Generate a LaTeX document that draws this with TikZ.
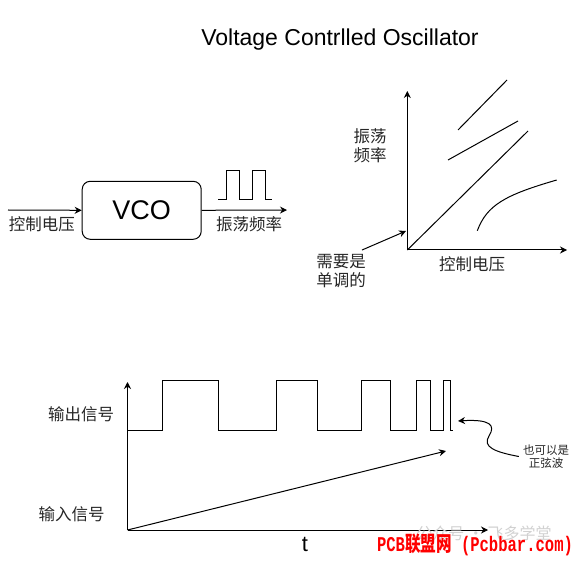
\documentclass[tikz,border=0pt]{standalone}
\usepackage{fontspec}
\setmainfont{Liberation Sans}
\newfontfamily\cjk{Noto Sans CJK SC}
\newfontfamily\wmmono{Liberation Mono}
\usetikzlibrary{positioning,arrows.meta}

\begin{document}
\begin{tikzpicture}[x=1pt,y=-1pt,
label/.style={inner sep=0pt,
  align=center,
  text=black!85,
  node font=\cjk\fontsize{16.5}{19}\selectfont
},
small/.style={label,
  node font=\cjk\fontsize{11.5}{13}\selectfont
},
arr/.style={black,line width=1pt,-{Stealth[length=7pt,width=7pt]}},
wave/.style={black,line width=1pt}]
\useasboundingbox (0,0) rectangle (578,561);

\node (title) [inner sep=0pt] at (340,40) {\fontsize{23}{26}\selectfont Voltage Contrlled Oscillator};

% VCO block
\node (vco) [draw, line width=1pt, rounded corners=8pt,
  minimum width=119pt, minimum height=58pt,
  node font=\fontsize{27}{30}\selectfont] at (141.7,210.3) {VCO};
\coordinate (vin) at (8,210);
\coordinate (vout) at (287,210);
\draw [arr] (vin) to (vco.west);
\draw [arr] (vco.east) to (vout);
\node (ctl) [label] at (42,224) {控制电压};
\node (fout) [label] at (249,224) {振荡频率};
\draw [wave] (218,200) -| (226,171) -| (239,200) -| (252,171) -| (265,200) -- (272,200);

% curve plot
\coordinate (o2) at (407.3,250);
\coordinate (y2) at (407.3,91);
\coordinate (x2) at (567,250);
\draw [arr] (o2) to (y2);
\draw [arr] (o2) to (x2);
\draw [wave] (o2) -- (528,131);
\draw [wave] (448,160) -- (518,121);
\draw [wave] (458,130) -- (507,80);
\draw [wave] (477.3,230.7) .. controls (487,205) and (505,195) .. (556.7,180);
\node (freq) [label] at (370,145.5) {振荡\\频率};
\node (vctl) [label] at (472,264) {控制电压};
\node (mono) [label] at (341,271) {需要是\\单调的};
\coordinate (monotip) at (406,231);
\draw [arr] ([xshift=-4pt,yshift=4pt]mono.north east) to (monotip);

% time plot
\coordinate (o3) at (127.5,530);
\coordinate (y3) at (127.5,382);
\coordinate (x3) at (488,530);
\draw [arr] (o3) to (y3);
\draw [arr] (o3) to (x3);
\draw [wave] (127.5,430) -| (162,380) -| (218,430) -| (276,380) -| (317,430)
  -| (361,380) -| (390,430) -| (416,380) -| (430,430) -| (443,380) -| (450,430) -- (453,430);
\coordinate (rampend) at (446,451);
\draw [arr] (o3) to (rampend);
\node (outsig) [label] at (81,414) {输出信号};
\node (insig) [label] at (71.5,514) {输入信号};
\node (t) [inner sep=0pt] at (305,544) {\fontsize{22}{24}\selectfont t};
\node (sine) [small] at (546,456.5) {也可以是\\正弦波};
\coordinate (sinetip) at (458,421);
\draw [arr] ([xshift=-4pt]sine.west) .. controls (495,452) and (482,447) .. (489,436)
  .. controls (496,425) and (490,419) .. (sinetip);

% watermark
\node (wmgray) [inner sep=0pt, text=black!18] at (484,533) {\cjk\fontsize{16}{18}\selectfont 公众号 · 飞多学堂};
\node (wmred) [inner sep=0pt, text=red] at (475,545) {\scalebox{0.74}[1]{\fontsize{21}{22}\selectfont\bfseries\wmmono PCB\cjk 联盟网\wmmono{} (Pcbbar.com)}};
\end{tikzpicture}
\end{document}
